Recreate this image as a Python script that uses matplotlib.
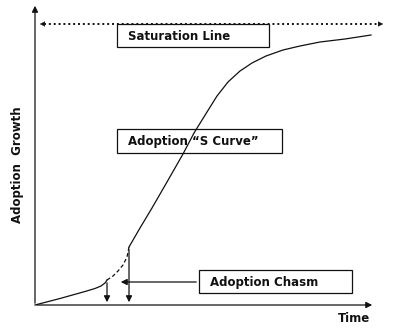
import matplotlib.pyplot as plt

# S-curve (pixel-like units, y grows downward)
early_x = [35, 60, 85, 95, 101, 105, 107]
early_y = [305, 298.5, 291.5, 288.5, 286, 283, 280]
chasm_x = [107, 113, 118, 123, 127, 129]
chasm_y = [280, 276, 271, 265, 257, 247]
late_x = [129, 140, 152, 167, 183, 194, 207, 217, 228, 240, 252, 266, 283, 300, 320, 345, 371]
late_y = [247, 228, 208, 182, 154, 133, 112, 96, 82, 71, 63, 56, 50, 46, 42, 39, 35]
chasm_marks = [107, 129]
labels = ['Saturation Line', 'Adoption \u201cS Curve\u201d', 'Adoption Chasm']

fig = plt.figure(figsize=(4, 3.3), dpi=100)
ax = fig.add_axes([0, 0, 1, 1])
ax.set_xlim(0, 400)
ax.set_ylim(330, 0)
ax.axis('off')

ink = '#111111'
lw = 0.9

# axes arrows
ax.annotate('', xy=(35, 3), xytext=(35, 306),
            arrowprops=dict(arrowstyle='-|>', color=ink, lw=lw, mutation_scale=9))
ax.annotate('', xy=(375, 305), xytext=(34, 305),
            arrowprops=dict(arrowstyle='-|>', color=ink, lw=lw, mutation_scale=9))

# saturation line, dotted with heads on both ends
ax.plot([44, 378], [24, 24], color=ink, lw=1.4, linestyle=(0, (1, 1.5)))
ax.annotate('', xy=(37, 24), xytext=(46, 24),
            arrowprops=dict(arrowstyle='-|>', color=ink, lw=0.1, mutation_scale=9))
ax.annotate('', xy=(386, 24), xytext=(377, 24),
            arrowprops=dict(arrowstyle='-|>', color=ink, lw=0.1, mutation_scale=9))

# label boxes (curve goes over the middle one)
boxes = [(117, 24, 152, 23), (117, 129, 165, 24), (199, 270, 153, 23)]
for (bx, by, bw, bh), txt in zip(boxes, labels):
    ax.add_patch(plt.Rectangle((bx, by), bw, bh, facecolor='white',
                               edgecolor=ink, lw=lw, zorder=1))
    ax.text(bx + 11, by + bh / 2 + 1, txt, fontsize=8.5, fontweight='bold',
            va='center', ha='left', color=ink, zorder=2)

# the curve
ax.plot(early_x, early_y, color=ink, lw=lw, zorder=3)
ax.plot(chasm_x, chasm_y, color=ink, lw=lw, linestyle=(0, (3, 2)), zorder=3)
ax.plot(late_x, late_y, color=ink, lw=lw, zorder=3)

# chasm markers
for mx, my in zip(chasm_marks, [early_y[-1], late_y[0]]):
    ax.annotate('', xy=(mx, 305), xytext=(mx, my),
                arrowprops=dict(arrowstyle='-|>', color=ink, lw=lw, mutation_scale=9))
ax.annotate('', xy=(118, 282), xytext=(199, 282),
            arrowprops=dict(arrowstyle='-|>', color=ink, lw=lw, mutation_scale=9))

ax.text(18, 165, 'Adoption  Growth', rotation=90, fontsize=8.5, fontweight='bold',
        va='center', ha='center', color=ink)
ax.text(354, 318, 'Time', fontsize=8.5, fontweight='bold',
        va='center', ha='center', color=ink)

fig.savefig('out.png', dpi=100)
